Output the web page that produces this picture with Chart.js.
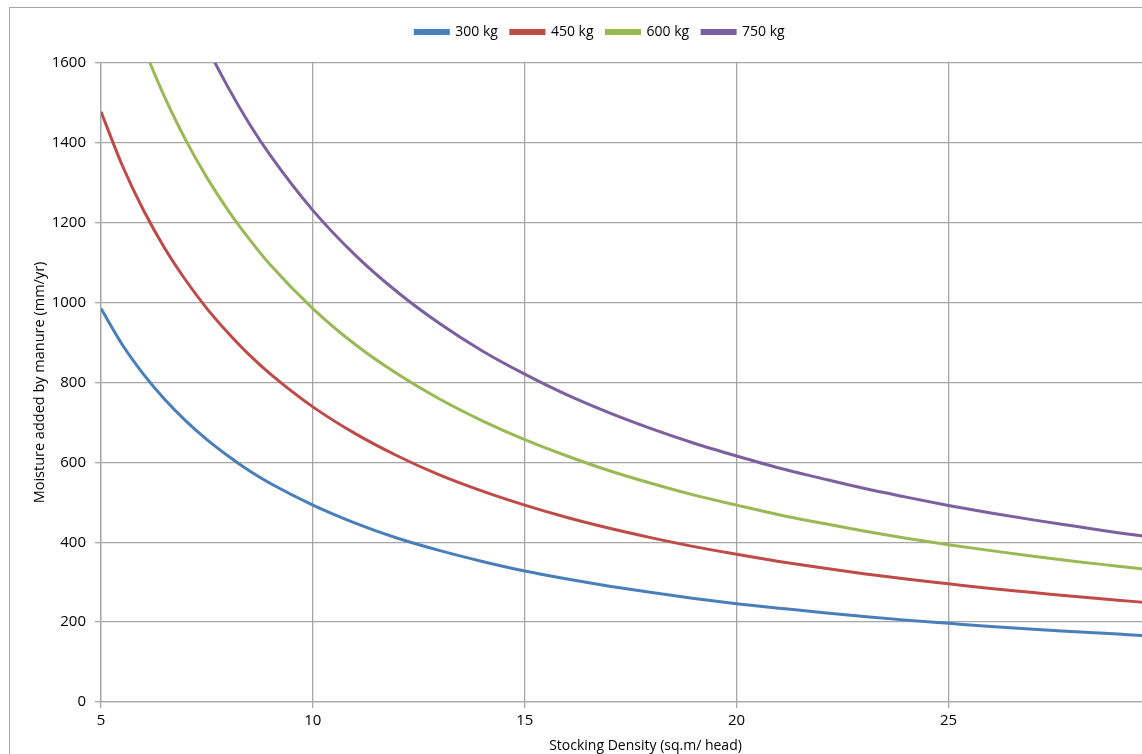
<!DOCTYPE html>
<html>
<head>
<meta charset="utf-8">
<script src="https://cdn.jsdelivr.net/npm/chart.js@4"></script>
<style>
  html, body { margin: 0; padding: 0; background: #fff; overflow: hidden; width: 1142px; height: 754px; }
  #frame { position: absolute; left: 9px; top: 7px; width: 1190px; height: 800px; border: 1.5px solid #a6a6a6; box-sizing: border-box; }
  #wrap { position: absolute; left: 10px; top: 8px; width: 1180px; height: 760px; }
</style>
</head>
<body>
<div id="frame"></div>
<div id="wrap"><canvas id="c"></canvas></div>
<script>
// Stocking density (sq.m/head)
const density = [5, 5.5, 6, 6.5, 7, 7.5, 8, 8.5, 9, 10, 11, 12, 13, 14, 15, 16, 17, 18, 19, 20, 21, 22, 23, 24, 25, 26, 27, 28, 29, 30, 31];
// Moisture added by manure (mm/yr)
const kg300 = [985, 895, 821, 758, 704, 657, 616, 579, 547, 493, 448, 410, 379, 352, 328, 308, 290, 274, 259, 246, 235, 224, 214, 205, 197, 189, 182, 176, 170, 164, 159];
const kg450 = [1478, 1344, 1232, 1137, 1056, 985, 924, 869, 821, 739, 672, 616, 568, 528, 493, 462, 435, 411, 389, 370, 352, 336, 321, 308, 296, 284, 274, 264, 255, 246, 238];
const kg600 = [1970, 1791, 1642, 1515, 1407, 1313, 1231, 1159, 1094, 985, 895, 821, 758, 704, 657, 616, 579, 547, 518, 493, 469, 448, 428, 410, 394, 379, 365, 352, 340, 328, 318];
const kg750 = [2462, 2238, 2052, 1894, 1759, 1641, 1539, 1448, 1368, 1231, 1119, 1026, 947, 879, 821, 769, 724, 684, 648, 616, 586, 560, 535, 513, 492, 473, 456, 440, 424, 410, 397];
const seriesNames = ['300 kg', '450 kg', '600 kg', '750 kg'];
const seriesColors = ['#4a7ebb', '#be4b48', '#98b954', '#7d5fa0'];

const allSeries = [kg300, kg450, kg600, kg750];
const datasets = allSeries.map((vals, i) => ({
  label: seriesNames[i],
  data: density.map((x, j) => ({ x: x, y: vals[j] })),
  borderColor: seriesColors[i],
  backgroundColor: seriesColors[i],
  borderWidth: 3,
  pointRadius: 0,
  showLine: true,
  fill: false,
  cubicInterpolationMode: 'monotone'
}));

const FONT = '"Open Sans", "Noto Sans", sans-serif';
Chart.defaults.font.family = FONT;
Chart.defaults.color = '#000';

// Adds extra space below the legend without moving the legend items
const legendGap = {
  id: 'legendGap',
  beforeLayout(chart) {
    const lg = chart.legend;
    if (lg && !lg._gapPatched) {
      const f = lg.fit;
      lg.fit = function () { f.call(this); this.height += 14; };
      lg._gapPatched = true;
    }
  }
};

new Chart(document.getElementById('c'), {
  type: 'scatter',
  data: { datasets: datasets },
  plugins: [legendGap],
  options: {
    responsive: true,
    maintainAspectRatio: false,
    animation: false,
    layout: { padding: { top: 4, right: 0, left: 0, bottom: 0 } },
    plugins: {
      legend: {
        position: 'top',
        labels: {
          boxWidth: 33,
          boxHeight: 3,
          padding: 13,
          font: { size: 14, family: FONT },
          color: '#000'
        }
      },
      tooltip: { enabled: false }
    },
    scales: {
      x: {
        type: 'linear',
        min: 5,
        max: 30.7,
        ticks: { stepSize: 5, includeBounds: false, font: { size: 15 }, color: '#000', padding: 4,
                 callback: (v) => String(v) },
        grid: { color: '#a6a6a6', lineWidth: 1.3, tickLength: 6, drawTicks: true },
        border: { color: '#a6a6a6', width: 1.3 },
        title: { display: true, text: 'Stocking Density (sq.m/ head)', font: { size: 14 }, color: '#000', padding: { top: 2, bottom: 14 } },
        afterFit: (s) => { s.height = 66; }
      },
      y: {
        min: 0,
        max: 1600,
        ticks: { stepSize: 200, font: { size: 15 }, color: '#000', padding: 9,
                 callback: (v) => String(v) },
        grid: { color: '#a6a6a6', lineWidth: 1.3, tickLength: 6, drawTicks: true },
        border: { color: '#a6a6a6', width: 1.3 },
        title: { display: true, text: 'Moisture added by manure (mm/yr)', font: { size: 14.5 }, color: '#000', padding: { top: 21, bottom: 0 } },
        afterFit: (s) => { s.width = 91; }
      }
    }
  }
});
</script>
</body>
</html>
